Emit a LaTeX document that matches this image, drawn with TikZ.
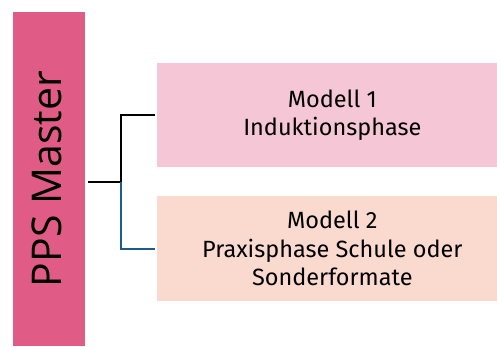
\documentclass[tikz,border=0pt]{standalone}
\usepackage{fontspec}
\setmainfont{Fira Sans}
\newfontfamily\masterfont{Open Sans}
\definecolor{masterpink}{HTML}{E05C87}
\definecolor{modellpink}{HTML}{F4C6D6}
\definecolor{modellpeach}{HTML}{FAD9CF}
\definecolor{branchblue}{HTML}{1F5A8C}
\begin{document}
\begin{tikzpicture}[x=1pt,y=-1pt,
  modell/.style={fill=#1, minimum width=350pt, minimum height=104.6pt, inner sep=0pt, align=center, font=\fontsize{23.5}{28.5}\selectfont},
  branch/.style={line width=2pt}]
\useasboundingbox (0,0) rectangle (497,347);
\node[fill=masterpink, minimum width=72pt, minimum height=334pt, inner sep=0pt] (master) at (49,179) {};
\node[rotate=90, font=\masterfont\fontsize{41}{50}\selectfont] (mastertext) at ([xshift=-2pt]master.center) {PPS Master};
\node[modell=modellpink] (m1) at (332.3,115) {Modell 1\\Induktionsphase};
\node[modell=modellpeach] (m2) at (332.3,248.7) {Modell 2\\Praxisphase Schule oder\\Sonderformate};
\coordinate (fork) at (121,182);
\draw[branch] ([xshift=3pt]master.east |- fork) -- (fork) -- (fork |- m1.west) -- ([xshift=-2pt]m1.west);
\draw[branch, branchblue] (fork) -- (fork |- m2.west) -- ([xshift=-2pt]m2.west);
\end{tikzpicture}
\end{document}
